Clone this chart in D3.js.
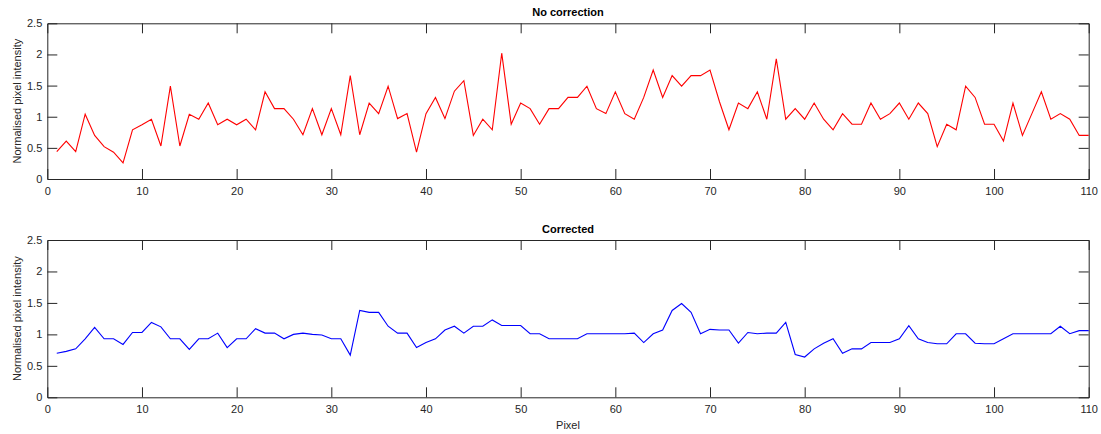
<!DOCTYPE html>
<html>
<head>
<meta charset="utf-8">
<script src="https://cdn.jsdelivr.net/npm/d3@7"></script>
<style>
  html, body { margin: 0; padding: 0; background: #fff; }
  svg { display: block; }
  text { font-family: "Liberation Sans", Arial, Helvetica, sans-serif; }
</style>
</head>
<body>
<svg id="chart" width="1101" height="434"></svg>
<script>
// ---- Data ----
const pixels = d3.range(1, 111);
const noCorrection = [
  0.44, 0.61, 0.44, 1.04, 0.70, 0.52, 0.43, 0.26, 0.79, 0.87,
  0.96, 0.53, 1.49, 0.53, 1.04, 0.96, 1.22, 0.87, 0.96, 0.87,
  0.96, 0.79, 1.40, 1.13, 1.13, 0.96, 0.71, 1.13, 0.71, 1.13,
  0.71, 1.66, 0.71, 1.22, 1.05, 1.49, 0.97, 1.05, 0.43, 1.05,
  1.31, 0.97, 1.41, 1.58, 0.70, 0.96, 0.79, 2.02, 0.88, 1.22,
  1.13, 0.88, 1.13, 1.13, 1.31, 1.31, 1.49, 1.13, 1.05, 1.40,
  1.05, 0.96, 1.31, 1.75, 1.31, 1.66, 1.49, 1.66, 1.66, 1.75,
  1.24, 0.79, 1.22, 1.13, 1.40, 0.96, 1.93, 0.96, 1.13, 0.96,
  1.22, 0.96, 0.79, 1.05, 0.88, 0.88, 1.22, 0.96, 1.05, 1.22,
  0.96, 1.22, 1.05, 0.52, 0.88, 0.79, 1.49, 1.31, 0.88, 0.88,
  0.61, 1.22, 0.70, 1.05, 1.40, 0.96, 1.05, 0.96, 0.70, 0.70
];
const corrected = [
  0.70, 0.73, 0.77, 0.93, 1.11, 0.93, 0.93, 0.84, 1.03, 1.03,
  1.19, 1.12, 0.93, 0.93, 0.76, 0.93, 0.93, 1.02, 0.79, 0.93,
  0.93, 1.09, 1.02, 1.02, 0.93, 1.00, 1.02, 1.00, 0.99, 0.93,
  0.93, 0.67, 1.38, 1.35, 1.35, 1.13, 1.02, 1.02, 0.79, 0.87,
  0.93, 1.07, 1.13, 1.02, 1.13, 1.13, 1.23, 1.14, 1.14, 1.14,
  1.01, 1.01, 0.93, 0.93, 0.93, 0.93, 1.01, 1.01, 1.01, 1.01,
  1.01, 1.02, 0.87, 1.01, 1.07, 1.38, 1.49, 1.35, 1.01, 1.08,
  1.07, 1.07, 0.86, 1.03, 1.01, 1.02, 1.02, 1.19, 0.68, 0.64,
  0.77, 0.86, 0.93, 0.70, 0.77, 0.77, 0.87, 0.87, 0.87, 0.93,
  1.14, 0.93, 0.87, 0.85, 0.85, 1.01, 1.01, 0.86, 0.85, 0.85,
  0.93, 1.01, 1.01, 1.01, 1.01, 1.01, 1.13, 1.01, 1.06, 1.06
];
const xTicks = [0, 10, 20, 30, 40, 50, 60, 70, 80, 90, 100, 110];
const yTicks = [0, 0.5, 1, 1.5, 2, 2.5];
const titles = ["No correction", "Corrected"];
const seriesColors = ["#ff0000", "#0000ff"];

// ---- Layout ----
const svg = d3.select("#chart");
const axisColor = "#262626";
const left = 47.3, right = 1088.7;
const panels = [
  { top: 23.3, bottom: 179, values: noCorrection, title: titles[0], color: seriesColors[0], xlabel: null },
  { top: 240, bottom: 397.3, values: corrected, title: titles[1], color: seriesColors[1], xlabel: "Pixel" }
];

const x = d3.scaleLinear().domain([0, 110]).range([left, right]);

panels.forEach(p => {
  const y = d3.scaleLinear().domain([0, 2.5]).range([p.bottom, p.top]);
  const g = svg.append("g");
  const tickLen = 10;

  const xb = g.append("g").attr("transform", `translate(0,${p.bottom})`)
    .call(d3.axisBottom(x).tickValues(xTicks).tickSize(-tickLen).tickPadding(8).tickFormat(d3.format("d")));
  const xt = g.append("g").attr("transform", `translate(0,${p.top})`)
    .call(d3.axisTop(x).tickValues(xTicks).tickSize(-tickLen).tickFormat(""));
  const yl = g.append("g").attr("transform", `translate(${left},0)`)
    .call(d3.axisLeft(y).tickValues(yTicks).tickSize(-tickLen).tickPadding(5).tickFormat(d => String(d)));
  const yr = g.append("g").attr("transform", `translate(${right},0)`)
    .call(d3.axisRight(y).tickValues(yTicks).tickSize(-tickLen).tickFormat(""));

  [xb, xt, yl, yr].forEach(a => {
    a.selectAll(".domain").attr("stroke", axisColor).attr("stroke-width", 1);
    a.selectAll(".tick line").attr("stroke", axisColor).attr("stroke-width", 1);
    a.selectAll(".tick text").attr("fill", axisColor).attr("font-size", 11)
      .attr("font-family", '"Liberation Sans", Arial, sans-serif');
  });
  xb.selectAll(".tick").filter(d => d === 0 || d === 110).select("line").remove();
  xt.selectAll(".tick").filter(d => d === 0 || d === 110).select("line").remove();
  yl.selectAll(".tick").filter(d => d === 0 || d === 2.5).select("line").remove();
  yr.selectAll(".tick").filter(d => d === 0 || d === 2.5).select("line").remove();

  const line = d3.line().x((d, i) => x(pixels[i])).y(d => y(d));
  g.append("path").datum(p.values)
    .attr("d", line).attr("fill", "none")
    .attr("stroke", p.color).attr("stroke-width", 1.1)
    .attr("stroke-linejoin", "miter");

  g.append("text")
    .attr("x", (left + right) / 2).attr("y", p.top - 7)
    .attr("text-anchor", "middle").attr("font-size", 11).attr("font-weight", "bold")
    .attr("fill", "#000").text(p.title);

  g.append("text")
    .attr("transform", `translate(21,${(p.top + p.bottom) / 2}) rotate(-90)`)
    .attr("text-anchor", "middle").attr("font-size", 11)
    .attr("fill", axisColor).text("Normalised pixel intensity");

  if (p.xlabel) {
    g.append("text")
      .attr("x", (left + right) / 2).attr("y", p.bottom + 32)
      .attr("text-anchor", "middle").attr("font-size", 11)
      .attr("fill", axisColor).text(p.xlabel);
  }
});
</script>
</body>
</html>
